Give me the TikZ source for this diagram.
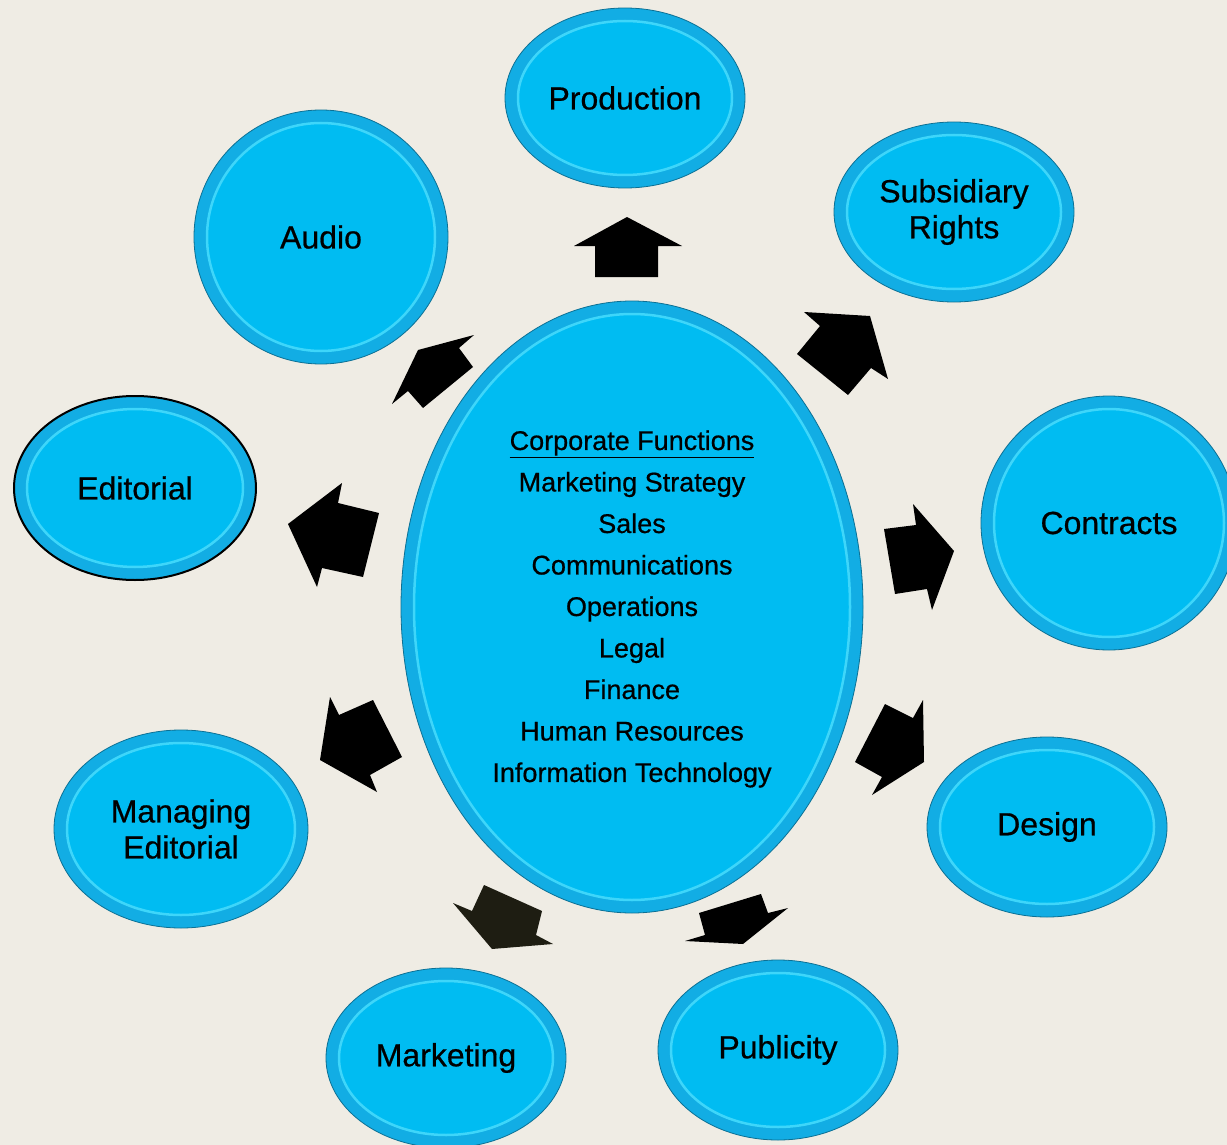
\documentclass[tikz,border=0pt]{standalone}
\usepackage{fontspec}
\setmainfont{Liberation Sans}[UprightFeatures={FakeBold=0.6}]
\usetikzlibrary{shapes.geometric}

\definecolor{fond}{HTML}{EFECE4}
\definecolor{bord}{HTML}{12ADE4}
\definecolor{face}{HTML}{00BCF2}
\definecolor{reflet}{HTML}{3ED6FA}
\definecolor{olive}{HTML}{1E1D12}

\tikzset{
  bulle/.style 2 args={ellipse, fill=bord, draw=bord!65!black, line width=0.8,
    minimum width=2*#1, minimum height=2*#2, inner sep=0pt, align=center,
    font=\fontsize{32}{36}\selectfont,
    path picture={\fill[face, draw=reflet, line width=2.5]
      (path picture bounding box.center) ellipse [x radius=#1-13, y radius=#2-13];}},
  fleche/.style={fill=black},
}

\begin{document}
\begin{tikzpicture}  % ------ Fonctions d'une maison d'edition --------
      [x=1pt, y=-1pt]

    \fill[fond] (0,0) rectangle (1227,1145);
    \useasboundingbox (0,0) rectangle (1227,1145);

    % les services autour
    \node[bulle={120}{90}]  (prod)  at (625,98)   {Production};
    \node[bulle={127}{127}] (audio) at (321,237)  {Audio};
    \node[bulle={120}{90}]  (droit) at (954,212)  {Subsidiary\\Rights};
    \node[bulle={121}{92}, draw=black, line width=2] (edit) at (135,488) {Editorial};
    \node[bulle={128}{127}] (contr) at (1109,523) {Contracts};
    \node[bulle={127}{99}]  (manag) at (181,829)  {Managing\\Editorial};
    \node[bulle={120}{90}]  (design) at (1047,827) {Design};
    \node[bulle={120}{90}]  (mark)  at (446,1058) {Marketing};
    \node[bulle={120}{90}]  (publi) at (778,1050) {Publicity};

    % le centre
    \node[bulle={231}{306}] (centre) at (632,607) {};
    \node[align=center, font=\fontsize{27}{41.5}\selectfont] (liste) at (632,609)
      {\underline{Corporate Functions}\\Marketing Strategy\\Sales\\Communications\\
       Operations\\Legal\\Finance\\Human Resources\\Information Technology};

    % les fleches
    \fill[fleche] (595,277) -- (595,246) -- (574,246) -- (627,217) -- (682,246) -- (658,246) -- (658,277) -- cycle ;  % vers prod
    \fill[fleche] (797,354) -- (820,326) -- (804,312) -- (870,316) -- (888,379) -- (871,368) -- (848,395) -- cycle ;  % vers droit
    \fill[fleche] (884,529) -- (916,525) -- (913,504) -- (954,551) -- (932,610) -- (927,589) -- (895,594) -- cycle ;  % vers contr
    \fill[fleche] (885,704) -- (913,718) -- (923,700) -- (924,762) -- (872,795) -- (882,777) -- (855,762) -- cycle ;  % vers design
    \fill[fleche] (699,913) -- (761,894) -- (768,913) -- (788,908) -- (743,944) -- (685,941) -- (705,935) -- cycle ;  % vers publi
    \fill[fleche, olive] (484,885) -- (542,911) -- (536,935) -- (553,944) -- (492,949) -- (453,903) -- (472,911) -- cycle ;  % vers mark
    \fill[fleche] (330,697) -- (339,715) -- (373,700) -- (402,757) -- (370,775) -- (377,792) -- (320,760) -- cycle ;  % vers manag
    \fill[fleche] (342,483) -- (338,503) -- (379,513) -- (363,577) -- (322,568) -- (317,587) -- (288,524) -- cycle ;  % vers edit
    \fill[fleche] (474,335) -- (418,350) -- (392,404) -- (408,391) -- (423,408) -- (473,367) -- (459,348) -- cycle ;  % vers audio
\end{tikzpicture}
\end{document}
